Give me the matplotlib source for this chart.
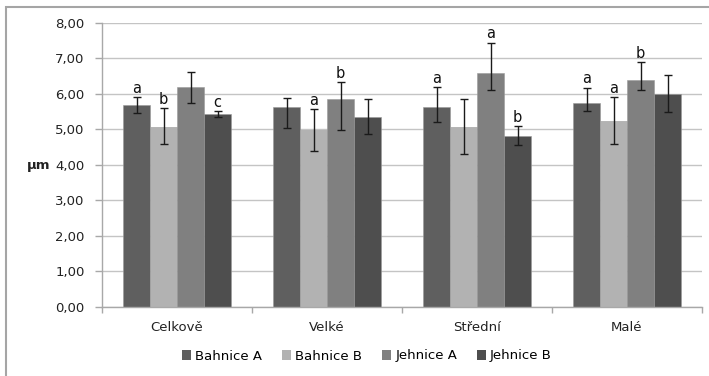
import numpy as np
import matplotlib
matplotlib.use("Agg")
import matplotlib.pyplot as plt
from matplotlib.patches import Rectangle, Patch
from matplotlib.ticker import FuncFormatter

plt.rcParams['font.family'] = ['DejaVu Sans']

categories = ["Celkově", "Velké", "Střední", "Malé"]
series = ["Bahnice A", "Bahnice B", "Jehnice A", "Jehnice B"]

bahnice_a = [5.70, 5.62, 5.63, 5.74]
bahnice_b = [5.08, 4.99, 5.07, 5.24]
jehnice_a = [6.19, 5.85, 6.58, 6.38]
jehnice_b = [5.43, 5.35, 4.81, 6.01]

# error bar extents below / above the mean
bahnice_a_lo = [0.25, 0.58, 0.42, 0.23]
bahnice_a_hi = [0.22, 0.27, 0.57, 0.44]
bahnice_b_lo = [0.50, 0.61, 0.76, 0.64]
bahnice_b_hi = [0.52, 0.58, 0.79, 0.66]
jehnice_a_lo = [0.45, 0.88, 0.48, 0.28]
jehnice_a_hi = [0.44, 0.49, 0.87, 0.51]
jehnice_b_lo = [0.08, 0.47, 0.26, 0.53]
jehnice_b_hi = [0.09, 0.52, 0.28, 0.53]

# significance letters per series and category
letters_bahnice_a = ["a", "", "a", "a"]
letters_bahnice_b = ["b", "a", "", "a"]
letters_jehnice_a = ["", "b", "a", "b"]
letters_jehnice_b = ["c", "", "b", ""]

y_ticks = [0, 1, 2, 3, 4, 5, 6, 7, 8]

values = [bahnice_a, bahnice_b, jehnice_a, jehnice_b]
err_lo = [bahnice_a_lo, bahnice_b_lo, jehnice_a_lo, jehnice_b_lo]
err_hi = [bahnice_a_hi, bahnice_b_hi, jehnice_a_hi, jehnice_b_hi]
letters = [letters_bahnice_a, letters_bahnice_b, letters_jehnice_a, letters_jehnice_b]
colors = ["#5f5f5f", "#b2b2b2", "#808080", "#4e4e4e"]

W, H = 709, 376
fig = plt.figure(figsize=(W / 100, H / 100), dpi=100)
ax = fig.add_axes([102 / W, 1 - 306.7 / H, 600 / W, (306.7 - 23) / H])

x = np.arange(len(categories))
bw = 0.18
for i, (vals, lo, hi, col, lab) in enumerate(zip(values, err_lo, err_hi, colors, letters)):
    pos = x + (i - 1.5) * bw
    ax.bar(pos, vals, width=bw, color=col, edgecolor="#9a9a9a", linewidth=0.4,
           zorder=2, label=series[i])
    ax.errorbar(pos, vals, yerr=[lo, hi], fmt="none", ecolor="#1a1a1a",
                elinewidth=1.0, capsize=3, capthick=1.0, zorder=3)
    for xp, v, h, t in zip(pos, vals, hi, lab):
        if t:
            ax.text(xp, v + h + 0.03, t, ha="center", va="bottom",
                    fontsize=10.5, color="#111111", zorder=4)

ax.set_xlim(-0.5, len(categories) - 0.5)
ax.set_ylim(0, 8)
ax.set_yticks(y_ticks)
ax.yaxis.set_major_formatter(FuncFormatter(lambda v, p: f"{v:.2f}".replace(".", ",")))
ax.grid(axis="y", color="#c4c4c4", linewidth=1.0, zorder=0)
ax.set_axisbelow(True)

ax.set_xticks(x)
ax.set_xticklabels(categories)
ax.set_xticks(np.arange(-0.5, len(categories), 1.0), minor=True)
ax.tick_params(axis="x", which="major", length=0, pad=10, labelsize=9.5, labelcolor="#222222")
ax.tick_params(axis="x", which="minor", length=4, width=1, color="#a8a8a8", direction="out")
ax.tick_params(axis="y", length=5, width=1, color="#a8a8a8", pad=7.5, labelsize=9.5,
               labelcolor="#222222")

for s in ["top", "right"]:
    ax.spines[s].set_visible(False)
for s in ["left", "bottom"]:
    ax.spines[s].set_color("#a8a8a8")
    ax.spines[s].set_linewidth(1.0)

fig.text(39 / W, 1 - 165 / H, "µm", ha="center", va="center", fontsize=9.5,
         fontweight="bold", color="#222222")

handles = [Patch(facecolor=c, edgecolor="none", label=s) for c, s in zip(colors, series)]
fig.legend(handles=handles, loc="center", bbox_to_anchor=(367 / W, 1 - 356 / H),
           ncol=4, frameon=False, fontsize=9.5, handlelength=0.7, handleheight=0.7,
           handletextpad=0.3, columnspacing=1.5, borderaxespad=0)

# outer chart frame
fig.patches.append(Rectangle((5.7 / W, -0.05), 1.1, 1 - 6.7 / H + 0.05,
                             transform=fig.transFigure, fill=False,
                             edgecolor="#a5a5a5", linewidth=1.5))

fig.savefig("out.png", dpi=100)
